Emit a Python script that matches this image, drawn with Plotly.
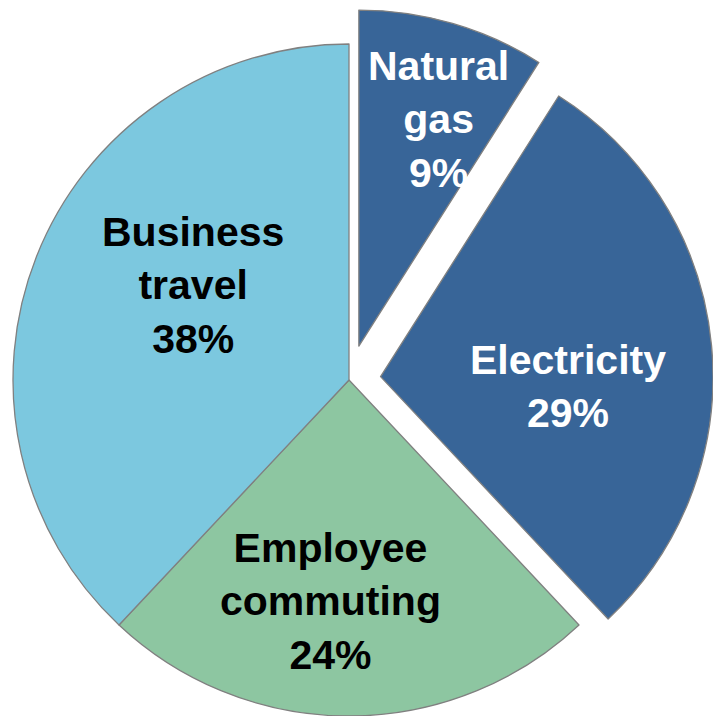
import math
import plotly.graph_objects as go

# Emission sources and their share of the footprint (%)
sources = ["Natural gas", "Electricity", "Employee commuting", "Business travel"]
label_lines = ["Natural<br>gas", "Electricity", "Employee<br>commuting", "Business<br>travel"]
shares = [9, 29, 24, 38]

# Styling
slice_colors = ["#386598", "#386598", "#8DC6A1", "#7CC8DF"]
text_colors = ["white", "white", "black", "black"]
exploded = [True, True, False, False]

W, H = 713, 716
R = 336                      # pie radius in px
CX, CY = 349, 380            # centre of the un-exploded pie (px from top-left)
PULL = 0.105                 # explode distance as a fraction of the radius
label_frac = [0.715, 0.56, 0.662, 0.543]   # label distance from centre / R
label_nudge = [3.1, 8.5, 4.9, 9.5]         # label angle tweak (deg)

total = sum(shares)
mid_angles = []
acc = 0
for s in shares:
    mid_angles.append((acc + s / 2) / total * 360)
    acc += s


def domain_for(cx, cy):
    x0, x1 = max(0, cx - R), min(W, cx + R)
    top, bottom = max(0, cy - R), min(H, cy + R)
    dom = dict(x=[x0 / W, x1 / W], y=[1 - bottom / H, 1 - top / H])
    return dom, ((x0 + x1) / 2, (top + bottom) / 2)


fig = go.Figure()
annotations = []

# One pie per group: the two exploded slices get their own shifted pie,
# the rest share the base pie. Every pie carries all values so angles agree.
groups = [[i for i in range(len(sources)) if not exploded[i]]] + \
         [[i] for i in range(len(sources)) if exploded[i]]

for grp in groups:
    if exploded[grp[0]]:
        a = math.radians(mid_angles[grp[0]])
        cx = CX + PULL * R * math.sin(a)
        cy = CY - PULL * R * math.cos(a)
    else:
        cx, cy = CX, CY
    dom, (ccx, ccy) = domain_for(cx, cy)
    colors = [slice_colors[i] if i in grp else "rgba(0,0,0,0)" for i in range(len(sources))]
    widths = [1.3 if i in grp else 0 for i in range(len(sources))]
    fig.add_trace(go.Pie(
        labels=sources,
        values=shares,
        sort=False,
        direction="clockwise",
        rotation=0,
        domain=dom,
        marker=dict(colors=colors, line=dict(color="#808080", width=widths)),
        textinfo="none",
        hoverinfo="label+percent",
        showlegend=False,
    ))
    for i in grp:
        a = math.radians(mid_angles[i] + label_nudge[i])
        d = label_frac[i] * R
        px = ccx + d * math.sin(a)
        py = ccy - d * math.cos(a)
        pct = round(shares[i] / total * 100)
        annotations.append(dict(
            x=px / W, y=1 - py / H, xref="paper", yref="paper",
            xanchor="center", yanchor="middle", showarrow=False,
            text=f"{label_lines[i]}<br>{pct}%",
            font=dict(family="Liberation Sans, Arial, sans-serif", size=41,
                      color=text_colors[i], weight="bold"),
        ))

fig.update_layout(
    width=W, height=H,
    margin=dict(l=0, r=0, t=0, b=0),
    paper_bgcolor="white",
    plot_bgcolor="white",
    annotations=annotations,
)

fig.write_html("out.html")
